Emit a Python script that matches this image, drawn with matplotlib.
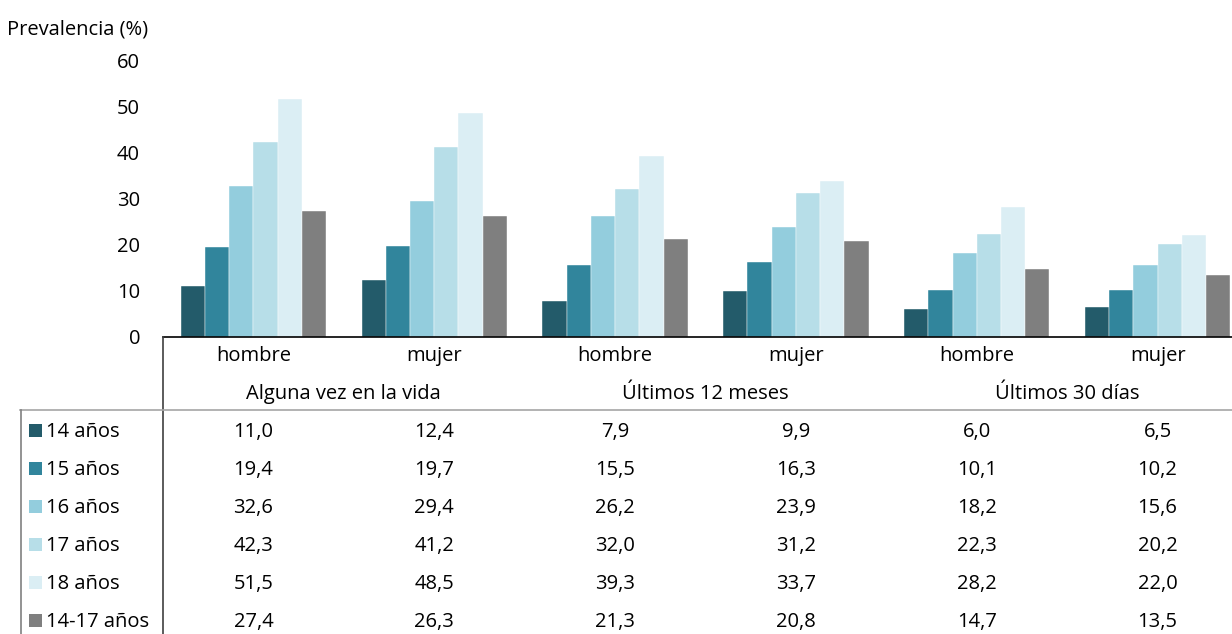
import matplotlib
matplotlib.use("Agg")
import matplotlib.pyplot as plt
import numpy as np
from matplotlib.transforms import blended_transform_factory
from matplotlib.lines import Line2D
from matplotlib.patches import Rectangle

plt.rcParams['font.family'] = ['Open Sans', 'DejaVu Sans']

categories = ["hombre", "mujer", "hombre", "mujer", "hombre", "mujer"]
periods = ["Alguna vez en la vida", "Últimos 12 meses", "Últimos 30 días"]
series_names = ["14 años", "15 años", "16 años", "17 años", "18 años", "14-17 años"]
age14 = [11.0, 12.4, 7.9, 9.9, 6.0, 6.5]
age15 = [19.4, 19.7, 15.5, 16.3, 10.1, 10.2]
age16 = [32.6, 29.4, 26.2, 23.9, 18.2, 15.6]
age17 = [42.3, 41.2, 32.0, 31.2, 22.3, 20.2]
age18 = [51.5, 48.5, 39.3, 33.7, 28.2, 22.0]
age14_17 = [27.4, 26.3, 21.3, 20.8, 14.7, 13.5]
series = [age14, age15, age16, age17, age18, age14_17]
colors = ["#235B6A", "#31859C", "#93CDDD", "#B7DEE8", "#DBEEF4", "#7F7F7F"]
yticks = [0, 10, 20, 30, 40, 50, 60]

W, H = 1232, 634
fig = plt.figure(figsize=(W / 100, H / 100), dpi=100)

def fy(py):
    return 1 - py / H

def fx(px):
    return px / W

ax_left, ax_right, ax_top, ax_bot = 163, 1248, 60, 337
ax = fig.add_axes([fx(ax_left), fy(ax_bot), fx(ax_right - ax_left), (ax_bot - ax_top) / H])

n = len(categories)
x = np.arange(n)
bw = 0.134
for i, (vals, c) in enumerate(zip(series, colors)):
    ax.bar(x + (i - 2.5) * bw, vals, width=bw, color=c, edgecolor="white", linewidth=0.3)

fs = 14.5
ax.set_xlim(-0.5, n - 0.5)
ax.set_ylim(0, 60)
ax.set_yticks(yticks)
ax.set_yticklabels([str(t) for t in yticks], fontsize=fs)
ax.tick_params(axis='y', length=0, pad=16.5)
ax.set_xticks([])
for s in ["top", "right", "left"]:
    ax.spines[s].set_visible(False)
ax.spines["bottom"].set_color("black")
ax.spines["bottom"].set_linewidth(1.2)

fig.text(fx(7), fy(30), "Prevalencia (%)", fontsize=fs, ha="left", va="center")

# Data table
tr = blended_transform_factory(ax.transData, fig.transFigure)
for i, cat in enumerate(categories):
    fig.text(i, fy(356), cat, transform=tr, ha="center", va="center", fontsize=fs)
for j, p in enumerate(periods):
    fig.text(2 * j + 0.5, fy(394), p, transform=tr, ha="center", va="center", fontsize=fs)

row_y = [432, 470, 508, 546, 584, 622]
for r, (name, vals, c) in enumerate(zip(series_names, series, colors)):
    yy = row_y[r]
    fig.patches.append(Rectangle((fx(29), fy(yy + 5)), 13 / W, 13 / H, transform=fig.transFigure,
                                 facecolor=c, edgecolor="none"))
    fig.text(fx(46), fy(yy), name, ha="left", va="center", fontsize=fs)
    for i, v in enumerate(vals):
        fig.text(i, fy(yy), f"{v:.1f}".replace(".", ","), transform=tr,
                 ha="center", va="center", fontsize=fs)

line_kw = dict(transform=fig.transFigure, linewidth=1.2)
fig.add_artist(Line2D([fx(163), fx(163)], [fy(337), fy(634)], color="#404040", **line_kw))
fig.add_artist(Line2D([fx(20), fx(1232)], [fy(410), fy(410)], color="#A6A6A6", **line_kw))
fig.add_artist(Line2D([fx(21), fx(21)], [fy(410), fy(634)], color="#808080", **line_kw))

fig.savefig("out.png", dpi=100)
